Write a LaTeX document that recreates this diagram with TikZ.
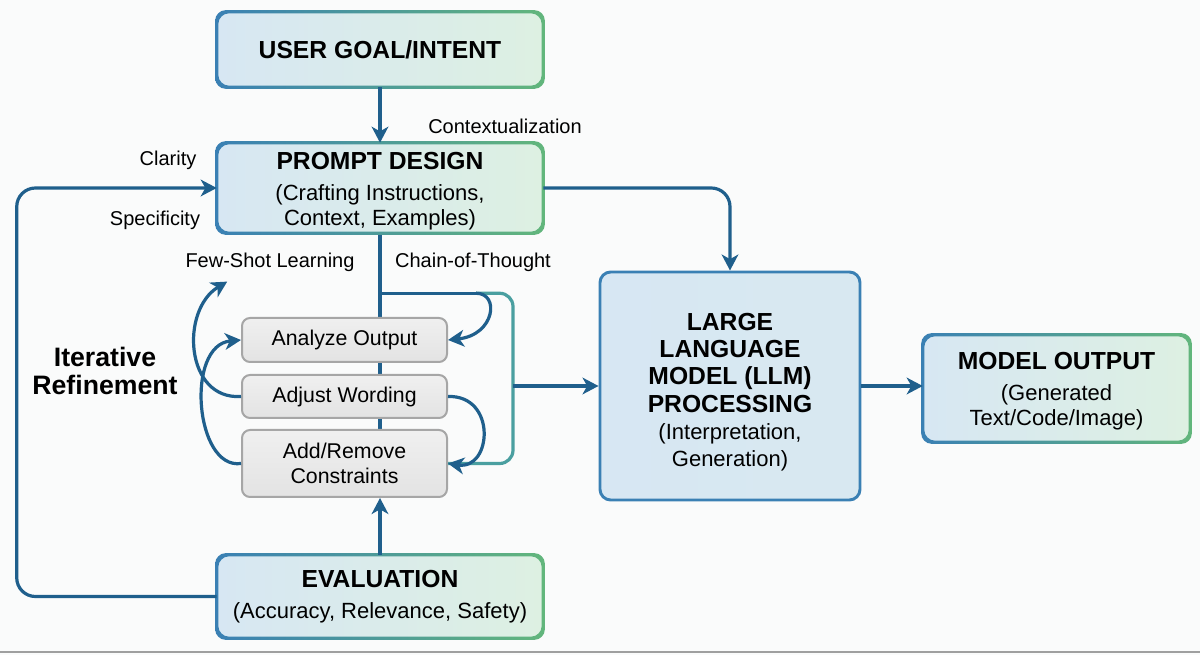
\documentclass[tikz,border=0pt]{standalone}
\usepackage{fontspec}
\setmainfont{Liberation Sans}
\usepackage{xcolor}
\usepackage{tikz}
\usetikzlibrary{calc, arrows.meta, backgrounds}

\definecolor{flowblue}{HTML}{1F5F8C}
\definecolor{bordblue}{HTML}{3A80B4}
\definecolor{bordgreen}{HTML}{62B67C}
\definecolor{fillblue}{HTML}{D7E7F3}
\definecolor{fillgreen}{HTML}{DDF0E2}
\definecolor{loopteal}{HTML}{4A9FA0}
\definecolor{grayfill}{HTML}{E3E3E3}
\definecolor{grayline}{HTML}{A6A6A6}
\definecolor{pagebg}{HTML}{FAFBFB}

\newcommand{\boxttl}[1]{{\fontsize{18.5}{21}\selectfont\bfseries #1}}
\newcommand{\gradframe}[1]{%
  \shade[even odd rule, left color=bordblue, right color=bordgreen, rounded corners=8pt]
    ($(#1.south west)+(-1.6,1.6)$) rectangle ($(#1.north east)+(1.6,-1.6)$)
    ($(#1.south west)+(1.6,-1.6)$) rectangle ($(#1.north east)+(-1.6,1.6)$);}

\begin{document}
\begin{tikzpicture}[x=0.75pt, y=-0.75pt,
    >={Stealth[length=12pt, width=12.5pt, inset=3.5pt]},
    stagebox/.style={rectangle, rounded corners=8pt, left color=fillblue, right color=fillgreen,
        align=center, inner sep=0pt, font=\fontsize{16.5}{18.5}\selectfont},
    stepbox/.style={rectangle, rounded corners=6pt, draw=grayline, line width=1.5pt,
        top color=grayfill!55, bottom color=grayfill, minimum width=153.75pt,
        align=center, inner sep=0pt, font=\fontsize{16}{18.5}\selectfont},
    flow/.style={draw=flowblue, line width=2.4pt},
    sidelabel/.style={font=\fontsize{15}{18}\selectfont, inner sep=0pt}]
    \useasboundingbox (0,0) rectangle (1200,655);

    % 1. Main stages
    \node[stagebox, minimum width=244.5pt, minimum height=56.25pt] (goal) at (380,49.5)
        {\boxttl{USER GOAL/INTENT}};
    \node[stagebox, minimum width=244.5pt, minimum height=67.5pt] (prompt) at (380,188)
        {\boxttl{\rule{0pt}{17pt}PROMPT DESIGN}\\[5pt] (Crafting Instructions,\\ Context, Examples)};
    \node[stagebox, minimum width=244.5pt, minimum height=62.25pt] (eval) at (380,596.5)
        {\boxttl{EVALUATION}\\[5pt] (Accuracy, Relevance, Safety)};
    \node[stagebox, right color=fillblue!85!fillgreen, draw=bordblue, line width=2.2pt,
        minimum width=195pt, minimum height=171pt, font=\fontsize{16.5}{20.5}\selectfont] (llm) at (730,386)
        {\boxttl{\rule{0pt}{22pt}LARGE}\\ \boxttl{LANGUAGE}\\ \boxttl{MODEL (LLM)}\\ \boxttl{PROCESSING}\\ (Interpretation,\\ Generation)};
    \node[stagebox, minimum width=200.25pt, minimum height=80.25pt] (output) at (1056.5,388.5)
        {\boxttl{\rule{0pt}{17pt}MODEL OUTPUT}\\[5pt] (Generated\\ Text/Code/Image)};
    \foreach \n in {goal, prompt, eval, output} \gradframe{\n};

    % 2. Refinement steps
    \node[stepbox, minimum height=33pt] (analyze) at (344.5,340) {Analyze Output};
    \node[stepbox, minimum height=32.25pt] (adjust) at (344.5,396.5) {Adjust Wording};
    \node[stepbox, minimum height=50.25pt] (addrem) at (344.5,463.5) {Add/Remove\\ Constraints};

    % 3. Side labels
    \node[sidelabel] (context) at (505,126) {Contextualization};
    \node[sidelabel] (clarity) at (168,160) {Clarity};
    \node[sidelabel] (specific) at (155,220) {Specificity};
    \node[sidelabel] (few) at (270,262) {Few-Shot Learning};
    \node[sidelabel] (chain) at (473,262) {Chain-of-Thought};
    \node[align=center, inner sep=0pt, font=\fontsize{20}{21}\selectfont\bfseries] (iter) at (105,371)
        {Iterative\\ Refinement};

    % 4. Connectors
    \begin{scope}[on background layer]
        \fill[pagebg] (0,0) rectangle (1200,655);
        \draw[flow] (prompt.south) -- (prompt.south |- addrem.north);
    \end{scope}
    \draw[flow, ->] (goal.south) -- (prompt.north);
    \draw[flow, ->, rounded corners=14pt] (eval.west) -- ++(-200,0) |- (prompt.west);
    \draw[flow, ->, rounded corners=14pt] (prompt.east) -| (llm.north);
    \draw[flow, ->] (eval.north) -- (eval.north |- addrem.south);
    \draw[flow, ->] (llm.east) -- (llm.east -| output.west);

    \coordinate (branch) at ($(prompt.south)+(0,60)$);
    \coordinate (cot) at ($(branch)+(96,0)$);
    \coordinate (loopx) at ($(addrem.east)+(65,0)$);
    \draw[flow] (branch) -- (cot);
    \draw[draw=loopteal, line width=2.4pt, rounded corners=10pt] (cot) -| (loopx) -- (addrem.east);
    \draw[flow, ->] (loopx |- llm.west) -- (llm.west);
    \draw[flow, ->] (cot) .. controls (500,293) and (495,335) .. (analyze.east);
    \draw[flow, ->] (adjust.east) .. controls (497,395) and (492,470) .. (addrem.east);

    \coordinate (fewtip) at ($(few.south west)+(42,10)$);
    \draw[flow, ->] (adjust.west) .. controls (185,400) and (180,310) .. (fewtip);
    \draw[flow, ->] (addrem.west) .. controls (195,470) and (185,345) .. (analyze.west);

    \draw[gray!75, line width=1.2pt] (0,652) -- (1200,652);
\end{tikzpicture}
\end{document}
